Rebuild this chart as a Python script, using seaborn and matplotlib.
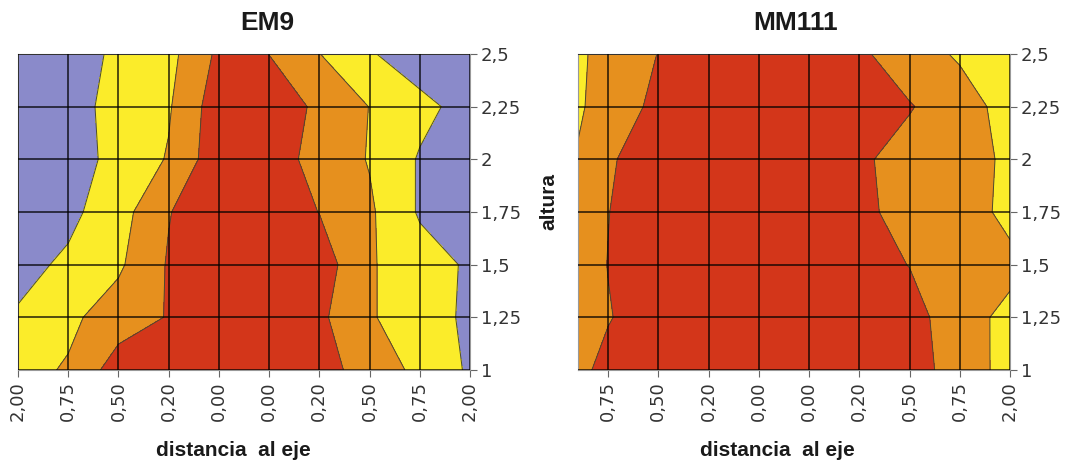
import numpy as np
import seaborn as sns
import matplotlib.pyplot as plt

# categories
x_labels_em9 = ["2,00", "0,75", "0,50", "0,20", "0,00", "0,00", "0,20", "0,50", "0,75", "2,00"]
x_labels_mm111 = ["2,00", "0,75", "0,50", "0,20", "0,00", "0,00", "0,20", "0,50", "0,75", "2,00"]
alturas = [1, 1.25, 1.5, 1.75, 2, 2.25, 2.5]
y_labels = ["1", "1,25", "1,5", "1,75", "2", "2,25", "2,5"]

# values (rows from altura 1 up to 2,5)
em9 = [
    [1.70, 2.09, 3.51, 3.60, 3.60, 3.60, 3.46, 2.50, 1.79, 0.86],
    [1.10, 1.80, 2.47, 3.06, 3.50, 3.50, 3.19, 2.15, 1.15, 0.94],
    [0.70, 1.17, 1.84, 3.09, 3.60, 3.60, 3.53, 2.10, 1.43, 0.87],
    [0.40, 0.75, 1.59, 2.95, 3.78, 3.60, 2.98, 2.15, 0.89, 0.50],
    [0.30, 0.60, 1.27, 2.08, 3.64, 3.50, 2.64, 1.94, 0.91, 0.50],
    [0.30, 0.60, 1.35, 1.90, 3.57, 3.50, 2.84, 1.98, 1.30, 0.60],
    [0.30, 0.50, 1.20, 1.70, 3.20, 2.99, 2.02, 1.10, 0.40, 0.30],
]
mm111 = [
    [2.50, 3.24, 3.60, 3.60, 3.60, 3.60, 3.60, 3.50, 2.50, 1.67],
    [2.30, 2.95, 3.45, 3.60, 3.60, 3.60, 3.60, 3.47, 2.30, 1.80],
    [2.30, 3.02, 3.60, 3.60, 3.60, 3.60, 3.50, 2.97, 2.50, 2.20],
    [2.30, 2.98, 3.60, 3.60, 3.60, 3.60, 3.33, 2.50, 2.40, 1.78],
    [1.60, 2.85, 3.68, 3.60, 3.60, 3.60, 3.17, 2.60, 2.40, 1.83],
    [1.53, 2.40, 3.26, 3.60, 3.60, 3.60, 3.50, 3.07, 2.40, 1.66],
    [1.40, 2.40, 3.02, 3.60, 3.60, 3.60, 3.19, 2.40, 1.89, 1.50],
]

sns.set_theme(style="white")
plt.rcParams['font.family'] = ['Liberation Sans', 'DejaVu Sans']

band_colors = ["#8a8aca", "#fbec2a", "#e6901e", "#d3361a"]
levels = [-1, 1, 2, 3, 5]

fig = plt.figure(figsize=(10.74, 4.63), dpi=100)
ax1 = fig.add_axes([18 / 1074, 93 / 463, 452 / 1074, 316 / 463])
ax2 = fig.add_axes([578 / 1074, 93 / 463, 432 / 1074, 316 / 463])


def draw(ax, data, xlabels, xmin):
    cols = np.arange(len(xlabels))
    z = np.array(data)
    ax.contourf(cols, alturas, z, levels=levels, colors=band_colors)
    ax.contour(cols, alturas, z, levels=[1, 2, 3], colors="#4a4a30", linewidths=0.7)
    for c in cols:
        ax.axvline(c, color="black", alpha=0.68, lw=1.4, zorder=3)
    for a in alturas:
        ax.axhline(a, color="black", alpha=0.68, lw=1.4, zorder=3)
    ax.set_xlim(xmin, cols[-1])
    ax.set_ylim(alturas[0], alturas[-1])
    vis = [c for c in cols if c >= xmin]
    ax.set_xticks(vis)
    ax.set_xticklabels([xlabels[c] for c in vis], rotation=90,
                       family="DejaVu Sans", fontsize=13, color="#333333")
    ax.set_yticks(alturas)
    ax.set_yticklabels(y_labels, family="DejaVu Sans", fontsize=13, color="#333333")
    ax.yaxis.tick_right()
    ax.tick_params(axis="both", direction="out", length=5, width=0.8,
                   color="#666666", pad=3, bottom=True, right=True, left=False)
    for s in ax.spines.values():
        s.set_color("#999999")
        s.set_linewidth(0.8)


draw(ax1, em9, x_labels_em9, 0)
draw(ax2, mm111, x_labels_mm111, 0.4)

fig.text(267 / 1074, 1 - 23 / 463, "EM9", ha="center", va="center",
         fontsize=19, fontweight="bold", color="#1a1a1a")
fig.text(796 / 1074, 1 - 23 / 463, "MM111", ha="center", va="center",
         fontsize=19, fontweight="bold", color="#1a1a1a")
fig.text(549 / 1074, 1 - 201 / 463, "altura", ha="center", va="center",
         rotation=90, fontsize=15, fontweight="bold", color="#1a1a1a")
fig.text(233 / 1074, 1 - 450 / 463, "distancia  al eje", ha="center", va="center",
         fontsize=15, fontweight="bold", color="#1a1a1a")
fig.text(777 / 1074, 1 - 450 / 463, "distancia  al eje", ha="center", va="center",
         fontsize=15, fontweight="bold", color="#1a1a1a")

fig.savefig("out.png", dpi=100)
